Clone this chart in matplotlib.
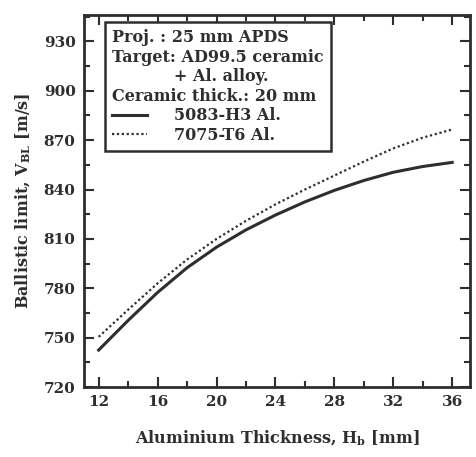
import matplotlib
matplotlib.use("Agg")
import matplotlib.pyplot as plt
from matplotlib.ticker import MultipleLocator

# values
thickness = [12, 14, 16, 18, 20, 22, 24, 26, 28, 30, 32, 34, 36]
vbl_5083 = [742.5, 760.5, 777.5, 792.5, 805, 815.5, 824.5, 832.5, 839.5, 845.5, 850.5, 854, 856.5]
vbl_7075 = [750.5, 767, 783, 797.5, 810, 821, 831, 840, 848.5, 857, 865, 871.5, 876.5]

x_ticks = [12, 16, 20, 24, 28, 32, 36]
y_ticks = [720, 750, 780, 810, 840, 870, 900, 930]

ink = "#2e2e2e"
plt.rcParams["font.family"] = "DejaVu Serif"
plt.rcParams["font.weight"] = "bold"
plt.rcParams["mathtext.fontset"] = "dejavuserif"

fig = plt.figure(figsize=(4.77, 4.57), dpi=100)
ax = fig.add_axes([0.176, 0.153, 0.809, 0.814])

ax.plot(thickness, vbl_5083, color=ink, lw=2.2, label="5083-H3 Al.")
ax.plot(thickness, vbl_7075, color=ink, lw=1.6, ls=(0, (1, 1.2)), label="7075-T6 Al.")

ax.set_xlim(11, 37.2)
ax.set_ylim(720, 946)
ax.set_xticks(x_ticks)
ax.set_yticks(y_ticks)
ax.xaxis.set_minor_locator(MultipleLocator(2))
ax.yaxis.set_minor_locator(MultipleLocator(15))
ax.tick_params(which="both", direction="in", top=True, right=True, color=ink,
               width=1.5, labelsize=11, labelcolor=ink, pad=6)
ax.tick_params(which="major", length=7)
ax.tick_params(which="minor", length=4)
for sp in ax.spines.values():
    sp.set_linewidth(2)
    sp.set_color(ink)

ax.set_xlabel("Aluminium Thickness, H$_\\mathbf{b}$ [mm]", fontsize=11.5,
              fontweight="bold", color=ink, labelpad=14)
ax.set_ylabel("Ballistic limit, V$_\\mathbf{BL}$ [m/s]", fontsize=11.5,
              fontweight="bold", color=ink, labelpad=8)

title = ("Proj. : 25 mm APDS\n"
         "Target: AD99.5 ceramic\n"
         "           + Al. alloy.\n"
         "Ceramic thick.: 20 mm")
leg = ax.legend(loc="upper left", bbox_to_anchor=(0.054, 0.982), borderaxespad=0,
                title=title, fontsize=11.5, title_fontsize=11.5, alignment="left",
                fancybox=False, framealpha=1, edgecolor=ink, handlelength=2.2,
                handletextpad=1.7, borderpad=0.45, labelspacing=0.15)
leg.get_frame().set_linewidth(1.8)
leg.get_title().set_multialignment("left")
leg.get_title().set_color(ink)
leg.get_title().set_fontweight("bold")
for t in leg.get_texts():
    t.set_color(ink)

fig.savefig("out.png", dpi=100)
